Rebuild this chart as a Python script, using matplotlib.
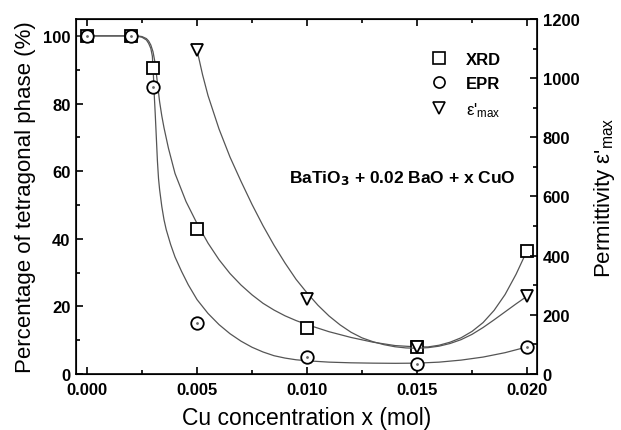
import matplotlib
matplotlib.use("Agg")
import matplotlib.pyplot as plt
from matplotlib.ticker import MultipleLocator
from matplotlib.lines import Line2D

plt.rcParams['font.family'] = ['Liberation Sans', 'DejaVu Sans']
plt.rcParams['mathtext.fontset'] = 'custom'
plt.rcParams['mathtext.rm'] = 'Liberation Sans'
plt.rcParams['mathtext.it'] = 'Liberation Sans'

# measured points
x_xrd = [0.0, 0.002, 0.003, 0.005, 0.010, 0.015, 0.020]
y_xrd = [100, 100, 90.5, 43, 13.5, 8, 36.5]
x_epr = [0.0, 0.002, 0.003, 0.005, 0.010, 0.015, 0.020]
y_epr = [100, 100, 85, 15, 5, 3, 8]
x_eps = [0.005, 0.010, 0.015, 0.020]
y_eps = [1095, 252, 90, 263]

# fitted guide curves
fx_xrd = [-0.0005, 0.0023, 0.0025, 0.0027, 0.0028, 0.0029, 0.0030, 0.00308, 0.00315,
          0.0032, 0.0033, 0.0034, 0.0035, 0.0037, 0.0040, 0.0045, 0.0050, 0.0055,
          0.0060, 0.0065, 0.0070, 0.0075, 0.0080, 0.0085, 0.0090, 0.0095, 0.0100,
          0.0110, 0.0120, 0.0130, 0.0140, 0.0150, 0.0155, 0.0160, 0.0165, 0.0170,
          0.0175, 0.0180, 0.0185, 0.0190, 0.0195, 0.0200]
fy_xrd = [100, 100, 99.8, 99.2, 98.5, 97.3, 95.3, 92.5, 89,
          86, 80.5, 76.3, 72.8, 66.8, 59.3, 51, 44.5, 38.7,
          33.8, 29.7, 26.3, 23.4, 20.9, 18.9, 17.2, 15.8, 14.6,
          12.5, 10.8, 9.4, 8.4, 8.0, 8.0, 8.5, 9.4, 10.7,
          12.6, 15.2, 18.8, 23.5, 29.5, 36.5]

fx_epr = [-0.0005, 0.0022, 0.0025, 0.0027, 0.0028, 0.0029, 0.00297, 0.00302, 0.00306,
          0.0031, 0.00315, 0.0032, 0.00325, 0.0033, 0.0034, 0.0035, 0.0036, 0.0038,
          0.0040, 0.0043, 0.0046, 0.0050, 0.0055, 0.0060, 0.0065, 0.0070, 0.0075,
          0.0080, 0.0085, 0.0090, 0.0095, 0.0100, 0.0110, 0.0120, 0.0130, 0.0140,
          0.0150, 0.0160, 0.0170, 0.0180, 0.0190, 0.0200]
fy_epr = [100, 100, 99.6, 98.8, 97.8, 96.3, 94, 88, 82,
          77, 70, 63, 57.8, 54.5, 49.5, 45.6, 42.7, 38.3,
          34.6, 30.3, 26.4, 22.0, 17.9, 14.6, 11.9, 9.7, 7.9,
          6.5, 5.4, 4.7, 4.2, 3.9, 3.5, 3.3, 3.2, 3.15,
          3.2, 3.5, 4.1, 5.0, 6.3, 8.0]

fx_eps = [0.0050, 0.00525, 0.0055, 0.0060, 0.0065, 0.0070, 0.0075, 0.0080, 0.0085,
          0.0090, 0.0095, 0.0100, 0.0105, 0.0110, 0.0115, 0.0120, 0.0125, 0.0130,
          0.0135, 0.0140, 0.0145, 0.0150, 0.0155, 0.0160, 0.0165, 0.0170, 0.0175,
          0.0180, 0.0185, 0.0190, 0.0195, 0.0200]
fy_eps = [1095, 1012, 941, 828, 733, 651, 573, 501, 435,
          375, 320, 274, 232, 196, 166, 141, 122, 109,
          99, 92, 88, 87, 89, 94, 103, 116, 134,
          157, 183, 210, 237, 263]

fig = plt.figure(figsize=(6.21, 4.31), dpi=100)
ax = fig.add_axes([0.1224, 0.13, 0.7423, 0.8236])
ax2 = ax.twinx()

ax.plot(fx_xrd, fy_xrd, color='#555555', lw=0.9, zorder=2)
ax.plot(fx_epr, fy_epr, color='#555555', lw=0.9, zorder=2)
ax2.plot(fx_eps, fy_eps, color='#555555', lw=0.9, zorder=2)

mk = dict(ls='none', mfc='white', mec='black', mew=1.3, ms=9, zorder=3)
ax.plot(x_xrd, y_xrd, marker='s', **mk)
ax.plot(x_epr, y_epr, marker='o', **mk)
ax.plot(x_epr, y_epr, ls='none', marker='.', ms=2, color='#666666', zorder=4)
ax2.plot(x_eps, y_eps, marker='v', **mk)

ax.set_xlim(-0.0005, 0.02045)
ax.set_ylim(0, 105)
ax2.set_ylim(0, 1200)

ax.xaxis.set_major_locator(MultipleLocator(0.005))
ax.xaxis.set_minor_locator(MultipleLocator(0.0025))
ax.yaxis.set_major_locator(MultipleLocator(20))
ax.yaxis.set_minor_locator(MultipleLocator(10))
ax2.yaxis.set_major_locator(MultipleLocator(200))
ax2.yaxis.set_minor_locator(MultipleLocator(100))
ax.xaxis.set_major_formatter(plt.FuncFormatter(lambda v, p: f"{v:.3f}"))

ax.tick_params(axis='x', which='both', direction='in', top=True)
ax.tick_params(axis='y', which='both', direction='in', right=False)
ax.tick_params(which='major', length=5, width=1.2, labelsize=12, pad=4)
ax.tick_params(axis='x', which='major', pad=6)
ax.tick_params(which='minor', length=3, width=1.2)
ax2.tick_params(which='major', direction='in', length=5, width=1.2, labelsize=12, pad=4)
ax2.tick_params(which='minor', direction='in', length=3, width=1.2)
for lab in ax.get_xticklabels() + ax.get_yticklabels() + ax2.get_yticklabels():
    lab.set_fontweight('bold')
for s in ax.spines.values():
    s.set_linewidth(1.2)

ax.set_xlabel('Cu concentration x (mol)', fontsize=16.5, labelpad=6)
ax.set_ylabel('Percentage of tetragonal phase (%)', fontsize=16, labelpad=5)
ax2.set_ylabel(r"Permittivity ε$'_{\rm max}$", fontsize=16, labelpad=9)

ax.text(0.0092, 58, r"BaTiO$_\mathbf{3}$ + 0.02 BaO + x CuO", fontsize=12.5,
        fontweight='bold', va='center')

handles = [Line2D([], [], marker='s', ls='none', mfc='white', mec='black', mew=1.2, ms=8),
           Line2D([], [], marker='o', ls='none', mfc='white', mec='black', mew=1.2, ms=8),
           Line2D([], [], marker='v', ls='none', mfc='white', mec='black', mew=1.2, ms=8)]
leg = ax.legend(handles, ['XRD', 'EPR', r"ε$'_{\rm max}$"], loc='upper right',
                bbox_to_anchor=(0.955, 0.95), frameon=False, fontsize=12,
                handletextpad=1.0, labelspacing=0.55, handlelength=1.2)
for t in leg.get_texts()[:2]:
    t.set_fontweight('bold')

fig.savefig('out.png', dpi=100)
